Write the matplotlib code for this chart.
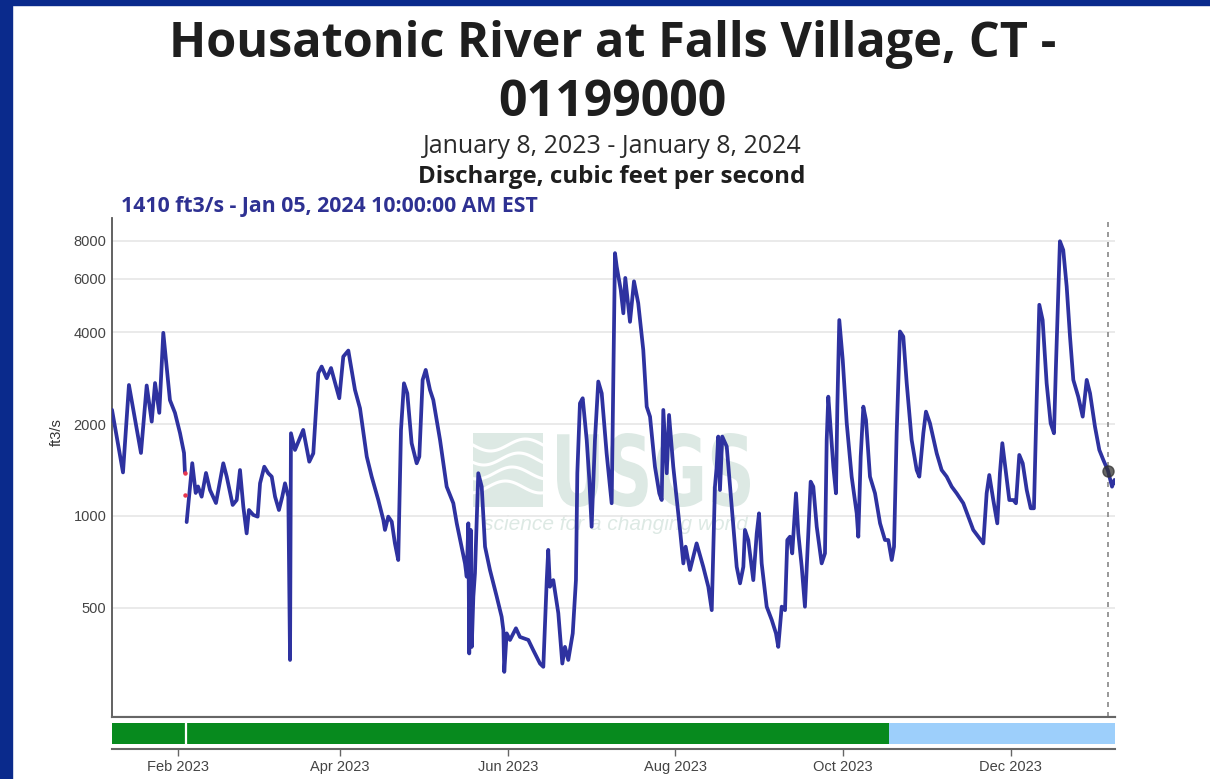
import numpy as np
import pandas as pd
import matplotlib
matplotlib.use("Agg")
import matplotlib.pyplot as plt
from matplotlib.patches import Rectangle, PathPatch
from matplotlib.textpath import TextPath
from matplotlib.font_manager import FontProperties
from matplotlib.transforms import Affine2D
from matplotlib.ticker import NullLocator

plt.rcParams['font.family'] = ['Liberation Sans', 'DejaVu Sans']

# discharge readings (ft3/s)
dates = [
    "2023-01-08 00:00", "2023-01-12 00:00", "2023-01-14 04:00", "2023-01-18 13:00",
    "2023-01-20 15:00", "2023-01-22 11:00", "2023-01-23 16:00", "2023-01-25 05:00",
    "2023-01-26 16:00", "2023-01-29 02:00", "2023-01-30 22:00", "2023-02-01 18:00",
    "2023-02-03 05:00", "2023-02-03 13:00", "2023-02-03 20:00",
    "2023-02-04 04:00", "2023-02-06 05:00", "2023-02-07 11:00", "2023-02-08 07:00",
    "2023-02-09 15:00", "2023-02-11 05:00", "2023-02-12 16:00", "2023-02-14 20:00",
    "2023-02-17 12:00", "2023-02-18 18:00", "2023-02-20 22:00", "2023-02-22 09:00",
    "2023-02-23 14:00", "2023-02-24 19:00", "2023-02-26 00:00", "2023-02-26 20:00",
    "2023-02-28 10:00", "2023-03-02 00:00", "2023-03-02 21:00", "2023-03-04 10:00",
    "2023-03-05 21:00", "2023-03-07 03:00", "2023-03-08 08:00", "2023-03-09 18:00",
    "2023-03-10 23:00", "2023-03-11 23:00", "2023-03-13 04:00", "2023-03-13 19:00",
    "2023-03-14 03:00", "2023-03-15 14:00", "2023-03-18 14:00", "2023-03-20 19:00",
    "2023-03-22 06:00", "2023-03-24 02:00", "2023-03-25 07:00", "2023-03-27 03:00",
    "2023-03-28 17:00", "2023-03-31 17:00", "2023-04-02 04:00", "2023-04-04 00:00",
    "2023-04-06 10:00", "2023-04-08 06:00", "2023-04-10 17:00", "2023-04-12 12:00",
    "2023-04-14 22:00", "2023-04-16 18:00", "2023-04-17 08:00", "2023-04-18 13:00",
    "2023-04-19 19:00", "2023-04-20 23:00", "2023-04-22 04:00", "2023-04-23 04:00",
    "2023-04-24 06:00", "2023-04-25 11:00", "2023-04-27 01:00", "2023-04-28 21:00",
    "2023-04-29 20:00", "2023-05-01 01:00", "2023-05-02 04:00", "2023-05-03 17:00",
    "2023-05-04 22:00", "2023-05-07 09:00", "2023-05-09 19:00", "2023-05-12 05:00",
    "2023-05-13 11:00", "2023-05-16 11:00", "2023-05-17 02:00", "2023-05-17 16:00",
    "2023-05-18 00:00", "2023-05-18 13:00", "2023-05-18 22:00", "2023-05-19 12:00",
    "2023-05-20 02:00", "2023-05-21 07:00", "2023-05-22 13:00", "2023-05-23 18:00",
    "2023-05-25 13:00", "2023-05-28 00:00", "2023-05-29 19:00", "2023-05-30 10:00",
    "2023-05-30 18:00", "2023-05-31 15:00", "2023-06-01 20:00", "2023-06-04 00:00",
    "2023-06-05 11:00", "2023-06-08 12:00", "2023-06-10 07:00", "2023-06-12 18:00",
    "2023-06-13 23:00", "2023-06-15 05:00", "2023-06-15 18:00", "2023-06-16 09:00",
    "2023-06-17 14:00", "2023-06-19 10:00", "2023-06-20 21:00", "2023-06-21 20:00",
    "2023-06-23 01:00", "2023-06-24 16:00", "2023-06-25 20:00", "2023-06-26 08:00",
    "2023-06-27 07:00", "2023-06-28 07:00", "2023-06-29 18:00", "2023-06-30 17:00",
    "2023-07-01 13:00", "2023-07-02 18:00", "2023-07-03 23:00", "2023-07-05 05:00",
    "2023-07-07 00:00", "2023-07-08 20:00", "2023-07-10 01:00", "2023-07-10 16:00",
    "2023-07-12 03:00", "2023-07-13 02:00", "2023-07-13 19:00", "2023-07-14 12:00",
    "2023-07-15 12:00", "2023-07-16 23:00", "2023-07-18 12:00", "2023-07-20 08:00",
    "2023-07-21 14:00", "2023-07-22 19:00", "2023-07-24 14:00", "2023-07-26 04:00",
    "2023-07-27 01:00", "2023-07-27 15:00", "2023-07-28 21:00", "2023-07-29 17:00",
    "2023-07-31 06:00", "2023-08-02 17:00", "2023-08-03 22:00", "2023-08-04 18:00",
    "2023-08-06 08:00", "2023-08-08 18:00", "2023-08-11 04:00", "2023-08-13 00:00",
    "2023-08-14 06:00", "2023-08-15 10:00", "2023-08-16 01:00", "2023-08-16 15:00",
    "2023-08-17 06:00", "2023-08-18 02:00", "2023-08-19 17:00", "2023-08-21 12:00",
    "2023-08-23 08:00", "2023-08-24 13:00", "2023-08-25 18:00", "2023-08-26 08:00",
    "2023-08-27 13:00", "2023-08-29 09:00", "2023-08-30 15:00", "2023-08-31 11:00",
    "2023-09-01 10:00", "2023-09-03 06:00", "2023-09-05 02:00", "2023-09-06 15:00",
    "2023-09-07 11:00", "2023-09-08 17:00", "2023-09-09 22:00", "2023-09-10 18:00",
    "2023-09-11 17:00", "2023-09-12 13:00", "2023-09-13 22:00", "2023-09-14 18:00",
    "2023-09-16 00:00", "2023-09-17 04:00", "2023-09-18 09:00", "2023-09-19 06:00",
    "2023-09-20 05:00", "2023-09-21 11:00", "2023-09-23 06:00", "2023-09-24 11:00",
    "2023-09-25 02:00", "2023-09-25 16:00", "2023-09-26 07:00", "2023-09-27 12:00",
    "2023-09-28 11:00", "2023-09-28 23:00", "2023-09-29 16:00", "2023-09-30 22:00",
    "2023-10-02 09:00", "2023-10-04 04:00", "2023-10-06 00:00", "2023-10-06 14:00",
    "2023-10-07 11:00", "2023-10-08 10:00", "2023-10-09 09:00", "2023-10-10 20:00",
    "2023-10-12 16:00", "2023-10-14 12:00", "2023-10-16 07:00", "2023-10-17 12:00",
    "2023-10-18 18:00", "2023-10-19 14:00", "2023-10-20 13:00", "2023-10-21 18:00",
    "2023-10-22 23:00", "2023-10-24 05:00", "2023-10-26 00:00", "2023-10-27 20:00",
    "2023-10-28 19:00", "2023-10-30 06:00", "2023-10-31 05:00", "2023-11-01 16:00",
    "2023-11-04 03:00", "2023-11-05 22:00", "2023-11-07 18:00", "2023-11-09 14:00",
    "2023-11-11 09:00", "2023-11-13 19:00", "2023-11-15 15:00", "2023-11-17 10:00",
    "2023-11-19 06:00", "2023-11-21 02:00", "2023-11-22 07:00", "2023-11-23 06:00",
    "2023-11-24 17:00", "2023-11-26 04:00", "2023-11-27 03:00", "2023-11-28 00:00",
    "2023-11-29 08:00", "2023-11-30 13:00", "2023-12-02 00:00", "2023-12-02 23:00",
    "2023-12-04 04:00", "2023-12-05 10:00", "2023-12-06 21:00", "2023-12-08 08:00",
    "2023-12-09 12:00", "2023-12-10 12:00", "2023-12-11 11:00", "2023-12-12 16:00",
    "2023-12-14 03:00", "2023-12-15 14:00", "2023-12-16 19:00", "2023-12-17 12:00",
    "2023-12-18 23:00", "2023-12-20 04:00", "2023-12-21 10:00", "2023-12-22 15:00",
    "2023-12-23 20:00", "2023-12-25 15:00", "2023-12-27 06:00", "2023-12-28 17:00",
    "2023-12-29 22:00", "2023-12-31 17:00", "2024-01-02 07:00", "2024-01-03 18:00",
    "2024-01-05 10:00", "2024-01-06 22:00", "2024-01-07 19:00", "2024-01-08 00:00",
]
flow = [
    2230, 1390, 2690, 1610, 2680, 2040, 2730, 2180, 3990, 2400, 2180, 1870,
    1610, 1390, np.nan,
    955, 1490, 1190, 1250, 1157, 1384, 1217, 1103, 1489, 1346, 1087, 1128,
    1415, 1073, 877, 1046, 1008, 995, 1280, 1451, 1381, 1346, 1157, 1046,
    1157, 1280, 1157, 337, 1868, 1647, 1916, 1507, 1605, 2942, 3092, 2832,
    3058, 2434, 3334, 3489, 2593, 2256, 1566, 1346, 1128, 970, 900, 995,
    958, 813, 717, 1916, 2725, 2527, 1733, 1489, 1566, 2796, 3015, 2593,
    2403, 1776, 1248, 1101, 946, 699, 632, 946, 354, 900, 372, 544,
    649, 1381, 1248, 793, 665, 544, 467, 422, 308, 412, 392, 428,
    401, 392, 363, 328, 320, 616, 774, 586, 616, 480, 328, 372,
    337, 412, 616, 1381, 2343, 2434, 1776, 1313, 922, 1776, 2762, 2527,
    1605, 1101, 7285, 6580, 5529, 4625, 6040, 5250, 4336, 5887, 4993, 3505,
    2284, 2118, 1451, 1187, 1128, 2228, 1381, 2145, 1451, 900, 699, 793,
    665, 813, 681, 586, 491, 1248, 1451, 1822, 1217, 1822, 1690, 1073,
    681, 601, 681, 900, 834, 616, 877, 1020, 699, 504, 456, 412,
    372, 504, 491, 834, 855, 754, 1187, 877, 681, 504, 877, 1296,
    1248, 922, 699, 754, 1776, 2463, 2066, 1451, 1187, 2284, 4394, 3253,
    2015, 1346, 1020, 855, 1566, 2284, 2066, 1346, 1187, 946, 834, 834,
    717, 793, 1868, 4030, 3877, 2725, 1776, 1415, 1346, 1868, 2200, 2015,
    1605, 1415, 1346, 1248, 1187, 1101, 995, 900, 855, 813, 1187, 1363,
    1128, 946, 1381, 1733, 1381, 1128, 1128, 1101, 1586, 1489, 1217, 1060,
    1060, 2403, 4931, 4394, 2725, 2015, 1868, 3092, 7970, 7456, 5661, 3877,
    2796, 2463, 2118, 2796, 2527, 1964, 1647, 1527, 1410, 1248, 1313, 1283,
]

# estimated values shown as red dots at the data gap
red_dates = ["2023-02-03 11:00", "2023-02-03 15:00"]
red_flow = [1381, 1172]

current_time = "2024-01-05 10:00"
current_flow = 1410
start_date = "2023-01-08"
end_date = "2024-01-08"
approved_until = "2023-10-17 18:00"
gap_time = "2023-02-03 18:00"

ytick_vals = [500, 1000, 2000, 4000, 6000, 8000]
xtick_dates = ["2023-02-01", "2023-04-01", "2023-06-01", "2023-08-01", "2023-10-01", "2023-12-01"]

W, H = 1210, 779
LINE = '#2e32a0'
TFONT = ['Open Sans', 'DejaVu Sans']


def box(l, t, r, b):
    return [l / W, 1 - b / H, (r - l) / W, (b - t) / H]


fig = plt.figure(figsize=(W / 100, H / 100), dpi=100)
fig.patch.set_facecolor('white')

# dark blue frame (top and left)
fig.patches.append(Rectangle((0, 1 - 5 / H), 1, 5 / H, transform=fig.transFigure,
                             color='#0a2a8c', zorder=5))
fig.patches.append(Rectangle((0, 0), 12 / W, 1, transform=fig.transFigure,
                             color='#0a2a8c', zorder=5))

# titles
fig.text(613 / W, 1 - 57 / H, "Housatonic River at Falls Village, CT -", ha='center',
         va='baseline', fontsize=35, fontweight='bold', color='#1e1e1e', family=TFONT)
fig.text(612 / W, 1 - 116 / H, "01199000", ha='center', va='baseline', fontsize=36,
         fontweight='bold', color='#1e1e1e', family=TFONT)
fig.text(612 / W, 1 - 153 / H, "January 8, 2023 - January 8, 2024", ha='center',
         va='baseline', fontsize=18, color='#2a2a2a', family=TFONT)
fig.text(612 / W, 1 - 183 / H, "Discharge, cubic feet per second", ha='center',
         va='baseline', fontsize=17.4, fontweight='bold', color='#1e1e1e', family=TFONT)
fig.text(121 / W, 1 - 212 / H, "1410 ft3/s - Jan 05, 2024 10:00:00 AM EST", ha='left',
         va='baseline', fontsize=15.3, fontweight='bold', color='#2e3192', family=TFONT)

# main hydrograph axes
ax = fig.add_axes(box(112, 218, 1115, 717))
x = pd.to_datetime(dates)
ax.plot(x, flow, color=LINE, lw=2.7, solid_joinstyle='round', solid_capstyle='round', zorder=3)
ax.plot(pd.to_datetime(red_dates), red_flow, 'o', ms=2.2, color='#e8384f', zorder=3)
ax.axvline(pd.Timestamp(current_time), color='#888888', lw=1.2, ls=(0, (3, 3)), zorder=2)
ax.plot(pd.Timestamp(current_time), current_flow, 'o', ms=8, color='#333333', alpha=0.75, zorder=4)

ax.set_yscale('log')
ax.set_yticks(ytick_vals)
ax.set_yticklabels([str(v) for v in ytick_vals])
ax.yaxis.set_minor_locator(NullLocator())
ax.set_xticks([])
ax.grid(axis='y', color='#e6e6e6', lw=1.2, zorder=0)
ax.set_axisbelow(True)
ax.tick_params(axis='y', length=0, pad=4, labelsize=10.5, labelcolor='#444444')
for s in ['top', 'right']:
    ax.spines[s].set_visible(False)
ax.spines['left'].set_color('#555555')
ax.spines['left'].set_linewidth(1.3)
ax.spines['bottom'].set_color('#666666')
ax.spines['bottom'].set_linewidth(1.5)
fig.text(57 / W, 1 - 432 / H, "ft3/s", rotation=90, ha='center', va='center',
         fontsize=10.5, color='#333333')

# USGS watermark
wm = '#dde9e4'
ax.add_artist(Rectangle((473 / W, 1 - 507 / H), 70 / W, 74 / H, transform=fig.transFigure,
                        color=wm, lw=0, zorder=0.5))
t = np.linspace(0, 1, 50)
for k in range(4):
    xx = 473 + 70 * t
    yy = 445 + 14 * k + 6 * np.sin(2 * np.pi * t + 0.6 * k)
    ax.add_artist(plt.Line2D(xx / W, 1 - yy / H, transform=fig.transFigure,
                             color='white', lw=2.2, zorder=0.6))
tp = TextPath((0, 0), "USGS", size=1, prop=FontProperties(family='DejaVu Sans', weight='bold'))
ext = tp.get_extents()
tr = Affine2D().translate(-ext.x0, -ext.y0).scale(193 / ext.width, 74 / ext.height).translate(557, H - 507)
ax.add_artist(PathPatch(tp, transform=tr, color=wm, lw=0, zorder=0.5))
ax.text(615 / W, 1 - 524 / H, "science for a changing world", transform=fig.transFigure,
        ha='center', va='center', fontsize=15, style='italic', color=wm, zorder=0.5)

ax.set_xlim(pd.Timestamp(start_date), pd.Timestamp(end_date))
ax.set_ylim(219, 9500)

# approval status bar
bx = fig.add_axes(box(112, 717, 1115, 749))
bx.axvspan(pd.Timestamp(start_date), pd.Timestamp(approved_until), ymin=0.16, ymax=0.82,
           color='#078a1e', lw=0)
bx.axvspan(pd.Timestamp(approved_until), pd.Timestamp(end_date), ymin=0.16, ymax=0.82,
           color='#9dcffb', lw=0)
bx.axvline(pd.Timestamp(gap_time), ymin=0.16, ymax=0.82, color='white', lw=1.6)
bx.set_xlim(pd.Timestamp(start_date), pd.Timestamp(end_date))
bx.set_ylim(0, 1)
bx.set_yticks([])
bx.set_xticks(pd.to_datetime(xtick_dates))
bx.set_xticklabels([pd.Timestamp(d).strftime('%b %Y') for d in xtick_dates])
bx.tick_params(axis='x', length=5, width=1, color='#666666', pad=3, labelsize=10.5,
               labelcolor='#444444')
for s in ['left', 'right']:
    bx.spines[s].set_visible(False)
for s in ['top', 'bottom']:
    bx.spines[s].set_color('#666666')
    bx.spines[s].set_linewidth(1.5)

fig.savefig('out.png', dpi=100)
